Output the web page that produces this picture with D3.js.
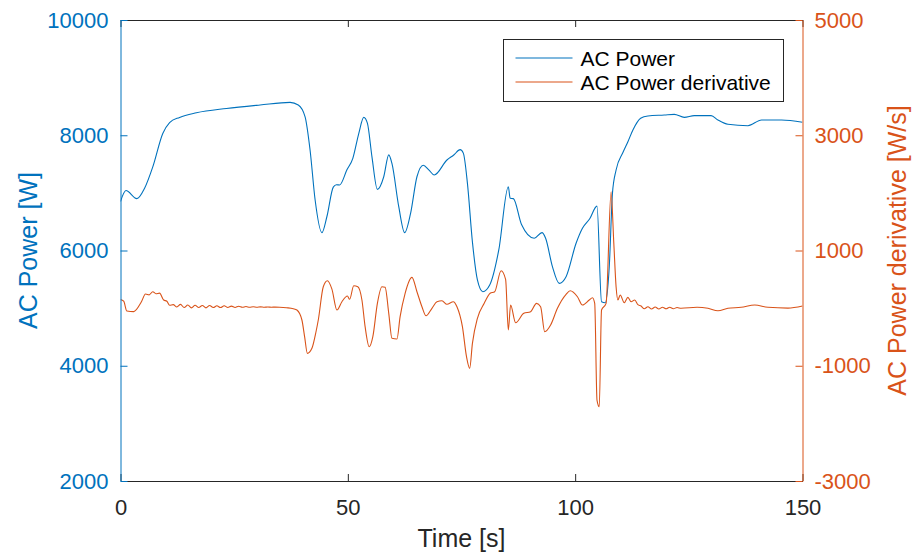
<!DOCTYPE html>
<html>
<head>
<meta charset="utf-8">
<script src="https://cdn.jsdelivr.net/npm/d3@7"></script>
<style>
  body { margin: 0; background: #fff; }
  text { font-family: "Liberation Sans", Arial, sans-serif; }
</style>
</head>
<body>
<div id="chart"></div>
<script>
// donnees
const xTicks = [0, 50, 100, 150];
const powerTicks = [2000, 4000, 6000, 8000, 10000];
const derivTicks = [-3000, -1000, 1000, 3000, 5000];
const seriesNames = ["AC Power", "AC Power derivative"];

// [temps (s), puissance (W)]
const power = [
  [0, 6850], [1.2, 7040], [3.6, 6900], [5.3, 7080], [7.1, 7450], [9.3, 8030], [10.8, 8220],
  [13, 8310], [16.7, 8390], [23.3, 8465], [30.7, 8525], [37.3, 8570], [39.1, 8525], [40.6, 8320],
  [41.7, 7740], [42.8, 6880], [44.3, 6310], [45.4, 6590], [46.8, 7100], [47.5, 7140], [48.2, 7137],
  [49.8, 7400], [51.1, 7600], [52.4, 8030], [53.5, 8310], [54.3, 8210], [55.3, 7630], [56.5, 7060],
  [57.9, 7280], [59, 7660], [59.7, 7510], [61.2, 6760], [62.5, 6310], [63.8, 6645], [65.2, 7280],
  [66.6, 7480], [67.8, 7400], [69, 7310], [71.8, 7570], [73.3, 7657], [74.7, 7750], [75.4, 7690],
  [76.3, 7170], [77.4, 6150], [78.5, 5490], [79.7, 5285], [81.2, 5400], [83.2, 6010], [85.3, 7107],
  [85.7, 6906], [86.4, 6900], [88.2, 6450], [91, 6212], [92.7, 6310], [93.5, 6212], [95, 5719],
  [96.5, 5430], [98, 5545], [100.2, 6125], [101.6, 6385], [103.2, 6550], [104.8, 6770], [105.8, 5111],
  [106.6, 5094], [107.5, 5719], [108.2, 6992], [109, 7397], [110.5, 7700], [111.6, 7888], [112.7, 8091],
  [114.4, 8294], [116, 8334], [119.6, 8351], [121.8, 8363], [124, 8311], [126.2, 8340], [129.9, 8340],
  [131.4, 8265], [133.6, 8190], [138, 8166], [141, 8265], [145.4, 8265], [150, 8225]
];

// [temps (s), derivee (W/s)]
const derivative = [
  [0, 150], [0.7, 120], [1.4, -50], [2.9, -60], [4.6, 110], [5.5, 245], [6.3, 230], [7.1, 285],
  [7.8, 250], [8.6, 260], [9.5, 140], [10.2, 120], [10.8, 50],
  [11.6, 60], [12.4, 20], [13.2, 65], [14.0, 10], [14.8, 55], [15.6, 5], [16.4, 50], [17.2, 10],
  [18.0, 45], [18.8, 5], [19.6, 45], [20.4, 10], [21.2, 40], [22.0, 10], [22.8, 40], [23.6, 12],
  [24.4, 35], [25.2, 12], [26.0, 32], [26.8, 14], [27.6, 28], [28.4, 14], [29.2, 25], [30.0, 15],
  [30.8, 22], [31.6, 15], [32.4, 20], [33.2, 16], [34.0, 18], [35.0, 16], [36.5, 7], [38.0, -10],
  [38.8, -33], [39.9, -206], [40.5, -500], [41.1, -785], [42.1, -698], [43.0, -410], [43.5, -206],
  [44.6, 371], [45.5, 476], [46.5, 330], [47.6, -33], [48.7, 111], [49.9, 210], [50.4, 153],
  [51.3, 389], [52.2, 371], [53.1, 141], [53.8, -322], [54.7, -670], [55.5, -496], [56.5, 83],
  [57.5, 371], [58.2, 361], [59.0, -90], [59.7, -524], [60.8, -536], [61.5, -149], [62.6, 257],
  [64.1, 534], [65.2, 285], [66.3, 24], [67.2, -132], [68.5, -3], [69.6, 111], [70.7, 128],
  [71.8, 66], [73.2, 111], [74.0, 24], [75.2, -322], [76.1, -843], [76.8, -1045], [77.4, -611],
  [78.5, -177], [80.0, 83], [81.3, 257], [82.3, 285], [83.7, 649], [84.7, 500], [85.3, -380],
  [85.8, 54], [86.9, -253], [88.7, -90], [90.2, -62], [91.5, 83], [92.4, 24], [93.3, -410],
  [94.6, -293], [96.1, -3], [98.0, 239], [98.9, 302], [100.5, 198], [101.6, 54], [103.1, 141],
  [103.8, 181], [104.3, 83], [104.8, -1595], [105.3, -1711], [105.8, -33], [106.8, 83],
  [107.9, 2020], [108.5, 1124], [109.0, 371], [109.4, 141], [109.9, 227], [110.8, 94], [111.6, 187],
  [112.3, 110], [113.1, 141], [113.8, 60], [114.5, 36], [115.2, -10], [116.0, 24], [116.8, -15],
  [117.6, 20], [118.4, -15], [119.2, 15], [120.0, -12], [120.8, 15], [121.6, -10], [122.4, 10],
  [123.3, -3], [126.8, 14], [129.2, -3], [131.4, -45], [133.6, -3], [136.5, 14], [139.5, 54],
  [142.4, 14], [146.8, 0], [150, 36]
];

const width = 913;
const height = 556;
const margin = {left: 120.5, right: 110.5, top: 20, bottom: 75};
const blue = "#0072BD";
const orange = "#D95319";
const dark = "#262626";
const fmt = d => String(d); // pas de separateur de milliers, tiret simple

const svg = d3.select("#chart")
    .append("svg")
    .attr("width", width)
    .attr("height", height);

const x = d3.scaleLinear().domain([0, 150]).range([margin.left, width - margin.right]);
const yP = d3.scaleLinear().domain([2000, 10000]).range([height - margin.bottom, margin.top]);
const yD = d3.scaleLinear().domain([-3000, 5000]).range([height - margin.bottom, margin.top]);

svg.append("clipPath").attr("id", "clip")
    .append("rect")
    .attr("x", margin.left).attr("y", margin.top)
    .attr("width", x(150) - x(0)).attr("height", yP(2000) - yP(10000));

// courbes
const linePower = d3.line().x(d => x(d[0])).y(d => yP(d[1])).curve(d3.curveMonotoneX);
const lineDeriv = d3.line().x(d => x(d[0])).y(d => yD(d[1])).curve(d3.curveMonotoneX);

const plot = svg.append("g").attr("clip-path", "url(#clip)");
plot.append("path").datum(power)
    .attr("d", linePower).attr("fill", "none")
    .attr("stroke", blue).attr("stroke-width", 1.1);
plot.append("path").datum(derivative)
    .attr("d", lineDeriv).attr("fill", "none")
    .attr("stroke", orange).attr("stroke-width", 1.1);

// axe du bas + haut
const xAxis = svg.append("g")
    .attr("transform", `translate(0,${yP(2000)})`)
    .call(d3.axisBottom(x).tickValues(xTicks).tickFormat(fmt).tickSizeInner(-7).tickSizeOuter(0).tickPadding(18));
xAxis.selectAll("text").style("font-size", "22px").attr("fill", dark);
xAxis.selectAll("line, path").attr("stroke", dark);

const xTop = svg.append("g")
    .attr("transform", `translate(0,${yP(10000)})`)
    .call(d3.axisTop(x).tickValues(xTicks).tickSizeInner(-7).tickSizeOuter(0).tickFormat(""));
xTop.selectAll("line, path").attr("stroke", dark);

// axe gauche
const leftAxis = svg.append("g")
    .attr("transform", `translate(${x(0)},0)`)
    .call(d3.axisLeft(yP).tickValues(powerTicks).tickFormat(fmt).tickSizeInner(-7).tickSizeOuter(0).tickPadding(12));
leftAxis.selectAll("text").style("font-size", "22px").attr("fill", blue);
leftAxis.selectAll("line, path").attr("stroke", blue);

// axe droit
const rightAxis = svg.append("g")
    .attr("transform", `translate(${x(150)},0)`)
    .call(d3.axisRight(yD).tickValues(derivTicks).tickFormat(fmt).tickSizeInner(-7).tickSizeOuter(0).tickPadding(12));
rightAxis.selectAll("text").style("font-size", "22px").attr("fill", orange);
rightAxis.selectAll("line, path").attr("stroke", orange);

// titres des axes
svg.append("text")
    .attr("x", (x(0) + x(150)) / 2).attr("y", 547)
    .attr("text-anchor", "middle").style("font-size", "25px").attr("fill", dark)
    .text("Time [s]");
svg.append("text")
    .attr("transform", `translate(37,${(yP(2000) + yP(10000)) / 2}) rotate(-90)`)
    .attr("text-anchor", "middle").style("font-size", "25px").attr("fill", blue)
    .text("AC Power [W]");
svg.append("text")
    .attr("transform", `translate(906,${(yD(-3000) + yD(5000)) / 2}) rotate(-90)`)
    .attr("text-anchor", "middle").style("font-size", "25px").attr("fill", orange)
    .text("AC Power derivative [W/s]");

// legende
const legend = svg.append("g").attr("transform", "translate(503.5,39.5)");
legend.append("rect")
    .attr("width", 280).attr("height", 62)
    .attr("fill", "#fff").attr("stroke", dark).attr("stroke-width", 1);
const colors = [blue, orange];
seriesNames.forEach((name, i) => {
    const yy = 18.5 + i * 24;
    legend.append("line")
        .attr("x1", 12).attr("x2", 69).attr("y1", yy).attr("y2", yy)
        .attr("stroke", colors[i]).attr("stroke-width", 1.1);
    legend.append("text")
        .attr("x", 77).attr("y", yy + 8)
        .style("font-size", "21px").attr("fill", "#000")
        .text(name);
});
</script>
</body>
</html>
